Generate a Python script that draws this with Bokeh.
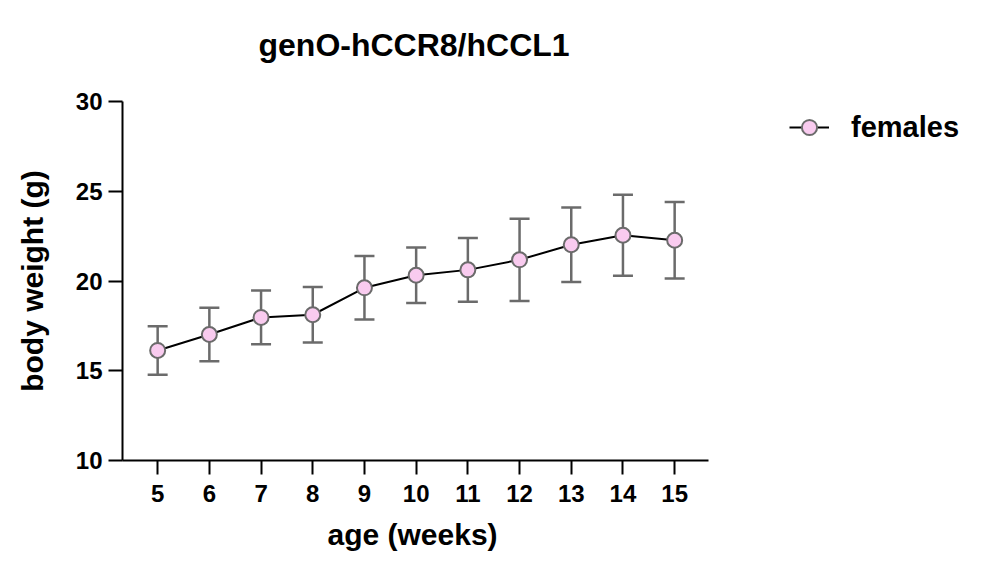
from bokeh.plotting import figure
from bokeh.models import Whisker, ColumnDataSource, Legend, LegendItem, FixedTicker, TeeHead, Title
from bokeh.embed import file_html
from bokeh.resources import INLINE

age = [5, 6, 7, 8, 9, 10, 11, 12, 13, 14, 15]
weight = [16.13, 17.02, 17.97, 18.12, 19.62, 20.32, 20.62, 21.18, 22.02, 22.55, 22.27]
sd = [1.35, 1.49, 1.50, 1.55, 1.77, 1.55, 1.78, 2.29, 2.08, 2.26, 2.13]
y_ticks = [10, 15, 20, 25, 30]

upper = [m + s for m, s in zip(weight, sd)]
lower = [m - s for m, s in zip(weight, sd)]
src = ColumnDataSource(dict(x=age, y=weight, upper=upper, lower=lower))

FONT = "Liberation Sans"
X0, X1 = 4.32, 15.66
PX_PER_UNIT = 51.7
W, H = 990, 568
LEFT, TOP, BOTTOM = 122, 101, 108
x_end = X0 + (W - LEFT) / PX_PER_UNIT

p = figure(width=W, height=H, output_backend="svg", toolbar_location=None,
           x_range=(X0, x_end), y_range=(10, 30),
           min_border_left=LEFT, min_border_right=0, min_border_top=TOP, min_border_bottom=BOTTOM)

# spacer between frame and title, then the title itself
p.add_layout(Title(text=" ", text_font_size="1px", standoff=36), "above")
p.add_layout(Title(text="genO-hCCR8/hCCL1", text_font=FONT, text_font_size="32px",
                   text_font_style="bold", text_color="black", align="left", offset=136,
                   standoff=0), "above")

p.outline_line_color = None
p.xgrid.visible = False
p.ygrid.visible = False

w = Whisker(source=src, base="x", upper="upper", lower="lower",
            line_color="#6b6b6b", line_width=2.5,
            upper_head=TeeHead(size=20, line_color="#6b6b6b", line_width=2.5),
            lower_head=TeeHead(size=20, line_color="#6b6b6b", line_width=2.5))
p.add_layout(w)

ln = p.line("x", "y", source=src, line_color="black", line_width=2)
sc = p.scatter("x", "y", source=src, size=15, fill_color="#f9cbef", line_color="#6b6b6b", line_width=2)

for ax in (p.xaxis[0], p.yaxis[0]):
    ax.axis_line_width = 2
    ax.axis_line_color = "black"
    ax.major_tick_line_width = 2
    ax.major_tick_line_color = "black"
    ax.major_tick_in = 0
    ax.major_tick_out = 14
    ax.minor_tick_line_color = None
    ax.major_label_text_font = FONT
    ax.major_label_text_font_style = "bold"
    ax.major_label_text_font_size = "24px"
    ax.major_label_text_color = "black"
    ax.axis_label_text_font = FONT
    ax.axis_label_text_font_style = "bold"
    ax.axis_label_text_font_size = "30px"
    ax.axis_label_text_color = "black"

p.xaxis.bounds = (X0, X1)
p.xaxis.ticker = FixedTicker(ticks=age)
p.yaxis.ticker = FixedTicker(ticks=y_ticks)
p.yaxis.axis_label = "body weight (g)"
p.xaxis.major_label_standoff = 10
p.yaxis.major_label_standoff = 6
p.yaxis.axis_label_standoff = 24

# x-axis label centred under the axis (not the wider frame)
p.add_layout(Title(text="age (weeks)", text_font=FONT, text_font_size="30px",
                   text_font_style="bold", text_color="black", align="left", offset=205,
                   vertical_align="top", standoff=26), "below")

legend = Legend(items=[LegendItem(label="females", renderers=[ln, sc])],
                location=(667, 314), background_fill_alpha=0, border_line_color=None,
                label_text_font=FONT, label_text_font_style="bold", label_text_font_size="29px",
                label_text_color="black",
                glyph_width=40, glyph_height=38, label_standoff=22, padding=10)
p.add_layout(legend)

open("out.html", "w").write(file_html(p, INLINE))
